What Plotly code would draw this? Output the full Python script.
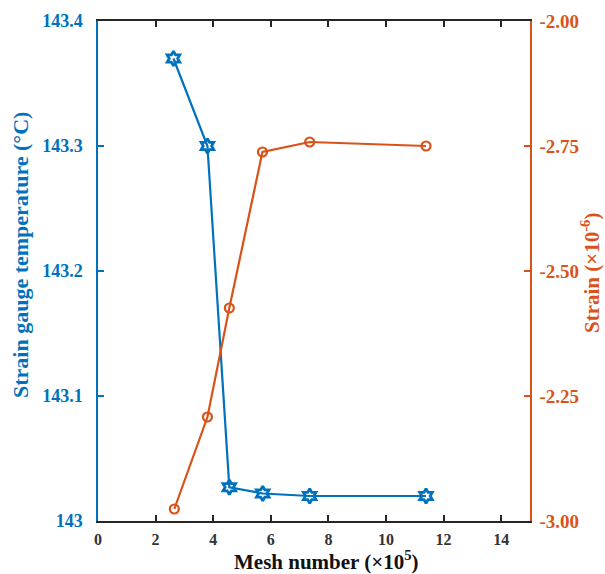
import plotly.graph_objects as go

# Mesh sizes (x 10^5 elements)
mesh_temp = [2.62, 3.80, 4.56, 5.72, 7.35, 11.39]
temperature = [143.370, 143.300, 143.027, 143.022, 143.020, 143.020]

mesh_strain = [2.65, 3.80, 4.56, 5.71, 7.35, 11.39]
# strain plotted on the right-hand scale (bottom -3.00, top -2.00)
strain = [-2.976, -2.792, -2.574, -2.262, -2.242, -2.250]

x_ticks = [0, 2, 4, 6, 8, 10, 12, 14]
x_labels = ["0", "2", "4", "6", "8", "10", "12", "14"]
left_ticks = [143.0, 143.1, 143.2, 143.3, 143.4]
left_labels = ["143", "143.1", "143.2", "143.3", "143.4"]
right_ticks = [-3.00, -2.75, -2.50, -2.25, -2.00]
right_labels = ["-3.00", "-2.25", "-2.50", "-2.75", "-2.00"]

BLUE = "#0072BD"
ORANGE = "#D95319"
FONT = "Liberation Serif"


def bold(labels):
    return ["<b>%s</b>" % s for s in labels]


fig = go.Figure()
fig.add_trace(go.Scatter(
    x=mesh_temp, y=temperature, mode="lines+markers",
    line=dict(color=BLUE, width=2.2),
    marker=dict(symbol="hexagram-open", size=11, color=BLUE, line=dict(width=2.8, color=BLUE)),
    yaxis="y", showlegend=False,
))
fig.add_trace(go.Scatter(
    x=mesh_strain, y=strain, mode="lines+markers",
    line=dict(color=ORANGE, width=2.2),
    marker=dict(symbol="circle-open", size=9, color=ORANGE, line=dict(width=2.2, color=ORANGE)),
    yaxis="y2", showlegend=False,
))

fig.update_layout(
    width=605, height=574,
    margin=dict(l=98, r=75, t=21, b=53),
    paper_bgcolor="white", plot_bgcolor="white",
    font=dict(family=FONT),
    xaxis=dict(
        range=[0, 15], tickvals=x_ticks, ticktext=bold(x_labels),
        ticks="inside", ticklen=6, tickwidth=1.5, ticklabelstandoff=3,
        tickcolor="#262626", showline=True, linecolor="#262626", linewidth=1.5,
        mirror="ticks", showgrid=False, zeroline=False,
        tickfont=dict(family=FONT, size=16, color="#333333"),
    ),
    yaxis=dict(
        range=[143.0, 143.4], tickvals=left_ticks, ticktext=bold(left_labels),
        ticks="inside", ticklen=6, tickwidth=1.5, tickcolor=BLUE, ticklabelstandoff=10,
        showline=True, linecolor=BLUE, linewidth=1.5, showgrid=False, zeroline=False,
        tickfont=dict(family=FONT, size=18, color=BLUE),
    ),
    yaxis2=dict(
        range=[-3.0, -2.0], tickvals=right_ticks, ticktext=bold(right_labels),
        overlaying="y", side="right",
        ticks="inside", ticklen=6, tickwidth=1.5, tickcolor=ORANGE, ticklabelstandoff=4,
        showline=True, linecolor=ORANGE, linewidth=1.5, showgrid=False, zeroline=False,
        tickfont=dict(family=FONT, size=19, color=ORANGE),
    ),
)

# axis titles positioned in pixel terms, converted to paper coordinates
L, R, T, B, W, H = 98, 75, 21, 53, 605, 574
plot_w = W - L - R
plot_h = H - T - B


def px_x(p):
    return (p - L) / plot_w


def px_y(p):
    return (H - B - p) / plot_h


fig.add_annotation(text="<b>Mesh number (×10<sup>5</sup>)</b>", x=px_x(326), y=px_y(560),
                   xref="paper", yref="paper", xanchor="center", yanchor="middle",
                   showarrow=False, font=dict(family=FONT, size=21, color="#111111"))
fig.add_annotation(text="<b>Strain gauge temperature (°C)</b>", x=px_x(20), y=px_y(255),
                   xref="paper", yref="paper", xanchor="center", yanchor="middle",
                   showarrow=False, textangle=-90, font=dict(family=FONT, size=22, color=BLUE))
fig.add_annotation(text="<b>Strain (×10<sup>-6</sup>)</b>", x=px_x(590), y=px_y(273),
                   xref="paper", yref="paper", xanchor="center", yanchor="middle",
                   showarrow=False, textangle=-90, font=dict(family=FONT, size=21, color=ORANGE))

fig.write_html("out.html")
